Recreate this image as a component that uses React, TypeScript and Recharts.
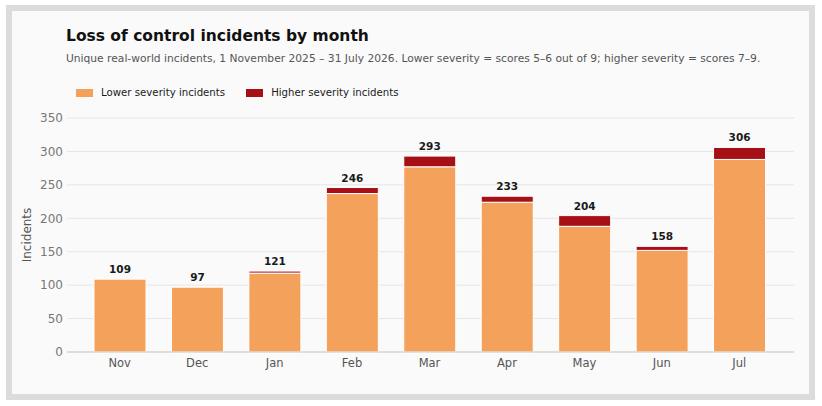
import { BarChart, Bar, XAxis, YAxis, CartesianGrid, Legend, LabelList } from 'recharts';

const months = ['Nov', 'Dec', 'Jan', 'Feb', 'Mar', 'Apr', 'May', 'Jun', 'Jul'];
const lowerSeverity = [109, 97, 118, 237, 277, 224, 188, 152, 288];
const higherSeverity = [0, 0, 3, 9, 16, 9, 16, 6, 18];
const totals = [109, 97, 121, 246, 293, 233, 204, 158, 306];
const yTicks = [0, 50, 100, 150, 200, 250, 300, 350];

const ORANGE = '#f4a15c';
const RED = '#a60f16';
const FONT = '"DejaVu Sans", Verdana, sans-serif';
const SERIES_ORDER = ['lower', 'higher'];

const data = months.map((m, i) => ({
  month: m,
  lower: lowerSeverity[i],
  higher: higherSeverity[i],
  total: totals[i],
}));

function LegendRow({ payload }: any) {
  const items = (payload || []).slice().sort((a: any, b: any) => SERIES_ORDER.indexOf(a.dataKey) - SERIES_ORDER.indexOf(b.dataKey));
  return (
    <div style={{ display: 'flex', gap: 21, fontSize: 10.2, color: '#1a1a1a', fontFamily: FONT }}>
      {items.map((p: any) => (
        <div key={p.value} style={{ display: 'flex', alignItems: 'center' }}>
          <span style={{ display: 'inline-block', width: 17, height: 8, background: p.color, marginRight: 8 }} />
          {p.value}
        </div>
      ))}
    </div>
  );
}

// label sits above the whole stack: lift it by the higher-severity segment
function TotalLabel(props: any) {
  const { x, y, width, height, index, value } = props;
  const pxPerUnit = lowerSeverity[index] ? height / lowerSeverity[index] : 0;
  const top = y - higherSeverity[index] * pxPerUnit;
  return (
    <text x={x + width / 2} y={top - 6} textAnchor="middle" fill="#1a1a1a" fontSize={10.5} fontWeight="bold">
      {totals[index] ?? value}
    </text>
  );
}

export default function App() {
  return (
    <div style={{ position: 'absolute', left: 0, top: 0, width: 822, height: 406, background: '#fff', fontFamily: FONT }}>
      <div
        style={{
          position: 'absolute',
          left: 6,
          top: 5,
          width: 797,
          height: 383,
          border: '6px solid #dcdcdc',
          background: '#fafafa',
        }}
      />
      <div style={{ position: 'absolute', left: 66, top: 27, fontSize: 15.5, fontWeight: 'bold', color: '#111' }}>
        Loss of control incidents by month
      </div>
      <div style={{ position: 'absolute', left: 66, top: 52, fontSize: 10.7, color: '#555', whiteSpace: 'nowrap' }}>
        Unique real-world incidents, 1 November 2025 – 31 July 2026. Lower severity = scores 5–6 out of 9; higher severity = scores 7–9.
      </div>
      <div style={{ position: 'absolute', left: 0, top: 0 }}>
        <BarChart width={822} height={406} data={data} margin={{ top: 118, right: 28, bottom: 24, left: 0 }}>
          <CartesianGrid vertical={false} stroke="#e6e6e6" />
          <XAxis
            dataKey="month"
            padding={{ left: 14, right: 16 }}
            tickLine={false}
            tickSize={0}
            tickMargin={7}
            axisLine={{ stroke: '#cfcabd' }}
            tick={{ fill: '#555', fontSize: 11.5 }}
          />
          <YAxis
            width={67}
            domain={[0, 350]}
            ticks={yTicks}
            axisLine={false}
            tickLine={false}
            tickSize={0}
            tickMargin={4}
            tick={{ fill: '#777', fontSize: 12 }}
            label={{ value: 'Incidents', angle: -90, position: 'insideLeft', offset: 27, style: { textAnchor: 'middle', fill: '#555', fontSize: 12 } }}
          />
          <Legend
            verticalAlign="middle"
            align="center"
            wrapperStyle={{ position: 'absolute', top: 87, left: 76, width: 'auto' }}
            content={<LegendRow />}
          />
          <Bar dataKey="lower" name="Lower severity incidents" stackId="a" fill={ORANGE} stroke="#fff" strokeWidth={1} barSize={52} isAnimationActive={false}>
            <LabelList dataKey="total" content={<TotalLabel />} />
          </Bar>
          <Bar dataKey="higher" name="Higher severity incidents" stackId="a" fill={RED} stroke="#fff" strokeWidth={1} barSize={52} isAnimationActive={false} />
        </BarChart>
      </div>
    </div>
  );
}
